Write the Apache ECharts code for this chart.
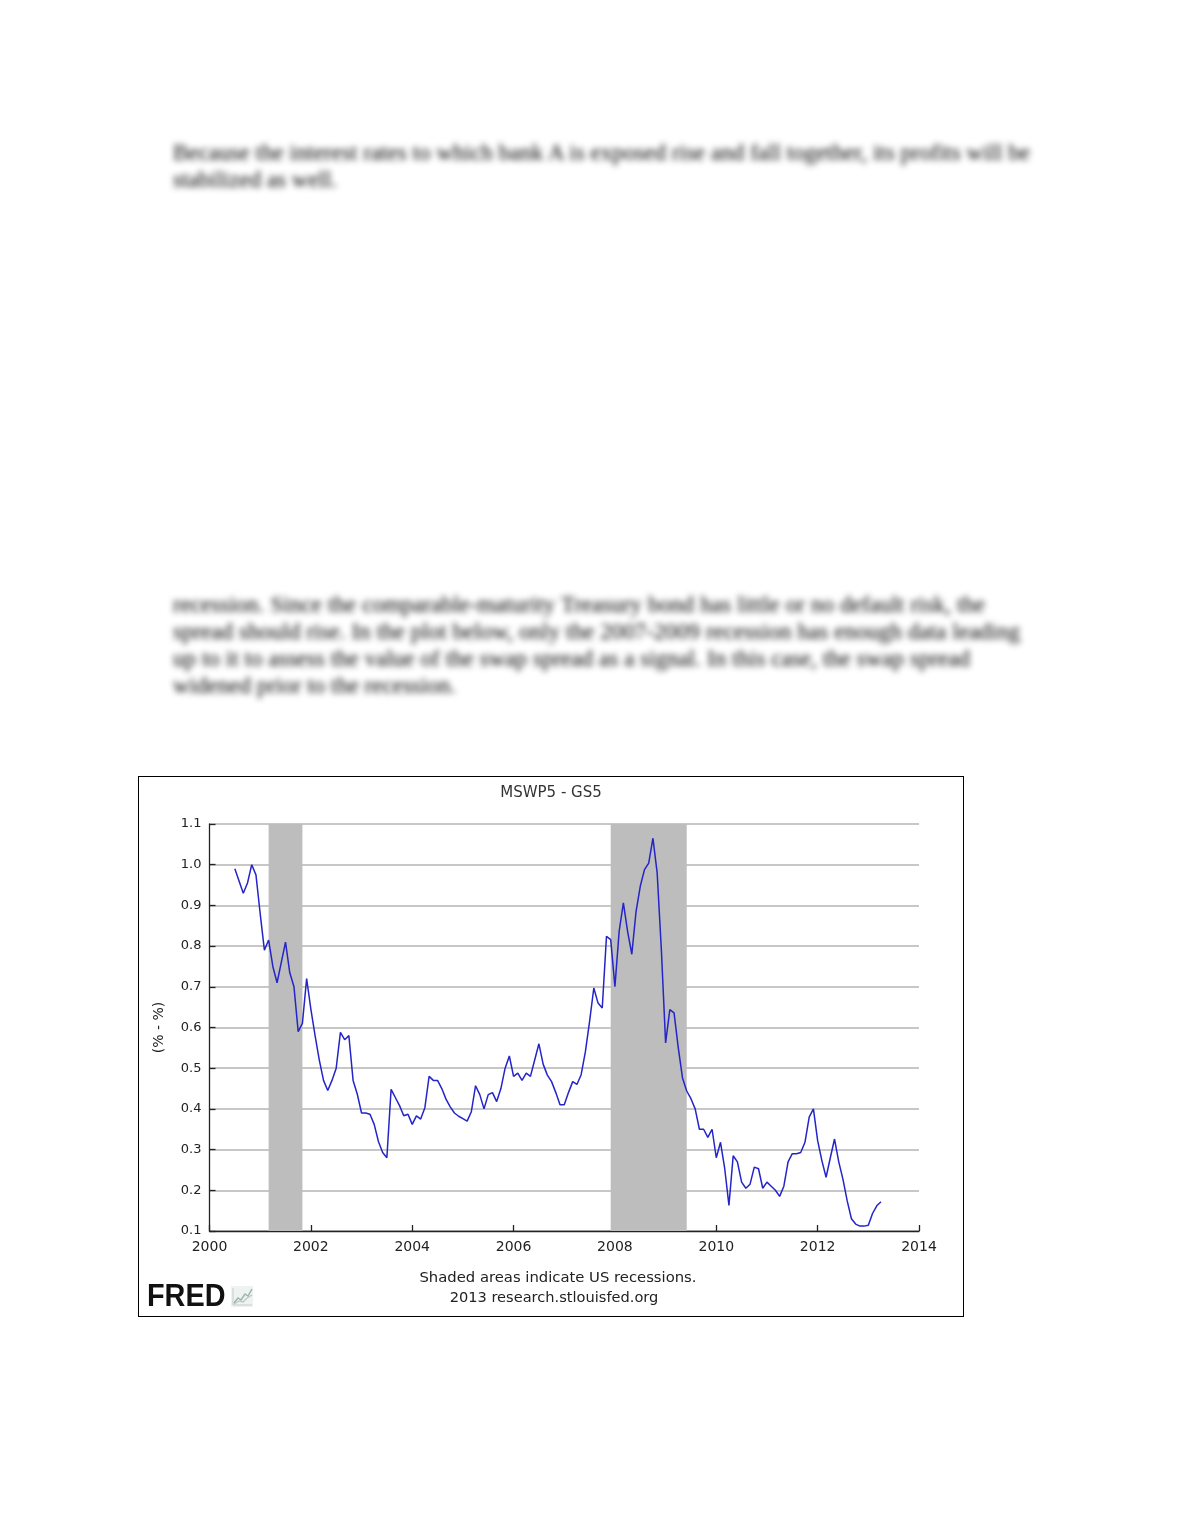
<!DOCTYPE html>
<html>
<head>
<meta charset="utf-8">
<script src="https://cdn.jsdelivr.net/npm/echarts@6/dist/echarts.min.js"></script>
<style>
  html, body { margin: 0; padding: 0; background: #ffffff; }
  body { width: 1180px; height: 1527px; position: relative; overflow: hidden; }
  .blur { position: absolute; left: 173px; font-family: "Liberation Serif", serif; font-size: 23px;
          line-height: 27px; color: #000; filter: blur(3px); white-space: nowrap; }
  .j { text-align: justify; text-align-last: justify; white-space: normal; }
  #chart { position: absolute; left: 138px; top: 776px; width: 826px; height: 541px;
           border: 1px solid #000; box-sizing: border-box; background: #fff; }
</style>
</head>
<body>
<div class="blur" style="top:139px;">
  <div class="j" style="width:857px;">Because the interest rates to which bank A is exposed rise and fall together, its profits will be</div>
  <div>stabilized as well.</div>
</div>
<div class="blur" style="top:591px;">
  <div class="j" style="width:812px;">recession. Since the comparable-maturity Treasury bond has little or no default risk, the</div>
  <div class="j" style="width:847px;">spread should rise. In the plot below, only the 2007-2009 recession has enough data leading</div>
  <div class="j" style="width:797px;">up to it to assess the value of the swap spread as a signal. In this case, the swap spread</div>
  <div>widened prior to the recession.</div>
</div>
<div id="chart"></div>
<script>
// MSWP5 - GS5 monthly spread (%), July 2000 .. April 2013
const startYear = 2000;
const startMonth = 7;
const spread2000 = [0.99, 0.96, 0.93, 0.955, 1.00, 0.975];
const spread2001 = [0.88, 0.79, 0.815, 0.75, 0.71, 0.76, 0.81, 0.735, 0.70, 0.59, 0.61, 0.72];
const spread2002 = [0.645, 0.58, 0.52, 0.47, 0.445, 0.47, 0.50, 0.588, 0.57, 0.58, 0.47, 0.436];
const spread2003 = [0.39, 0.39, 0.387, 0.362, 0.32, 0.293, 0.28, 0.448, 0.428, 0.408, 0.383, 0.387];
const spread2004 = [0.362, 0.383, 0.375, 0.403, 0.48, 0.47, 0.47, 0.45, 0.424, 0.405, 0.39, 0.382];
const spread2005 = [0.376, 0.37, 0.393, 0.457, 0.435, 0.40, 0.435, 0.44, 0.418, 0.45, 0.50, 0.53];
const spread2006 = [0.48, 0.488, 0.47, 0.488, 0.48, 0.52, 0.56, 0.51, 0.483, 0.467, 0.44, 0.41];
const spread2007 = [0.41, 0.44, 0.467, 0.46, 0.484, 0.54, 0.615, 0.697, 0.66, 0.648, 0.824, 0.816];
const spread2008 = [0.70, 0.836, 0.906, 0.836, 0.78, 0.885, 0.947, 0.988, 1.004, 1.065, 0.98, 0.79];
const spread2009 = [0.562, 0.644, 0.636, 0.55, 0.476, 0.444, 0.425, 0.40, 0.35, 0.35, 0.33, 0.35];
const spread2010 = [0.28, 0.318, 0.253, 0.163, 0.285, 0.27, 0.22, 0.205, 0.215, 0.257, 0.253, 0.205];
const spread2011 = [0.22, 0.21, 0.20, 0.185, 0.21, 0.27, 0.29, 0.29, 0.293, 0.318, 0.38, 0.40];
const spread2012 = [0.322, 0.273, 0.232, 0.28, 0.326, 0.27, 0.227, 0.174, 0.13, 0.117, 0.112, 0.112];
const spread2013 = [0.114, 0.143, 0.162, 0.172];

// US recessions (start month, end month)
const recessions = [["2001-03", "2001-11"], ["2007-12", "2009-06"]];

const xTicks = [2000, 2002, 2004, 2006, 2008, 2010, 2012, 2014];
const yTicks = [0.1, 0.2, 0.3, 0.4, 0.5, 0.6, 0.7, 0.8, 0.9, 1.0, 1.1];

const allValues = [].concat(spread2000, spread2001, spread2002, spread2003, spread2004,
  spread2005, spread2006, spread2007, spread2008, spread2009, spread2010, spread2011,
  spread2012, spread2013);

function monthToYear(s) {
  const p = s.split("-");
  return Number(p[0]) + (Number(p[1]) - 1) / 12;
}
const seriesData = allValues.map((v, i) => {
  const m = startMonth - 1 + i;
  return [startYear + m / 12, v];
});

const chart = echarts.init(document.getElementById('chart'), null, { renderer: 'canvas' });
const font = 'DejaVu Sans';
chart.setOption({
  animation: false,
  backgroundColor: '#ffffff',
  title: {
    text: 'MSWP5 - GS5', left: 'center', top: 4,
    textStyle: { fontFamily: font, fontSize: 15, fontWeight: 'normal', color: '#333' }
  },
  grid: { left: 70.5, right: 44, top: 47, bottom: 85, containLabel: false },
  xAxis: {
    type: 'value', min: xTicks[0], max: xTicks[xTicks.length - 1], interval: 2,
    axisLine: { show: true, lineStyle: { color: '#222', width: 1.3 } },
    axisTick: { show: true, inside: true, length: 6, lineStyle: { color: '#222', width: 1.3 } },
    axisLabel: { formatter: v => String(v), margin: 9, color: '#222', fontFamily: font, fontSize: 14 },
    splitLine: { show: false }
  },
  yAxis: {
    type: 'value', min: yTicks[0], max: yTicks[yTicks.length - 1], interval: 0.1,
    name: '(% - %)', nameLocation: 'middle', nameGap: 43, nameRotate: 90,
    nameTextStyle: { fontFamily: font, fontSize: 14, color: '#222' },
    axisLine: { show: true, lineStyle: { color: '#222', width: 1.3 } },
    axisTick: { show: true, inside: true, length: 6, lineStyle: { color: '#222', width: 1.3 } },
    axisLabel: { formatter: v => v.toFixed(1), margin: 8, color: '#222', fontFamily: font, fontSize: 13 },
    splitLine: { show: true, lineStyle: { color: '#b5b5b5', width: 1.5 } }
  },
  series: [{
    type: 'line',
    data: seriesData,
    showSymbol: false,
    symbol: 'none',
    lineStyle: { color: '#2424c8', width: 1.5 },
    z: 3,
    markArea: {
      silent: true,
      itemStyle: { color: '#bdbdbd', opacity: 1 },
      data: recessions.map(r => [{ xAxis: monthToYear(r[0]) }, { xAxis: monthToYear(r[1]) }])
    }
  }],
  graphic: [
    {
      type: 'text', x: 419, y: 501,
      style: { text: 'Shaded areas indicate US recessions.', font: '14.8px "DejaVu Sans"', fill: '#222',
               textAlign: 'center', align: 'center', textVerticalAlign: 'middle', verticalAlign: 'middle' }
    },
    {
      type: 'text', x: 415, y: 521,
      style: { text: '2013 research.stlouisfed.org', font: '14.6px "DejaVu Sans"', fill: '#222',
               textAlign: 'center', align: 'center', textVerticalAlign: 'middle', verticalAlign: 'middle' }
    },
    {
      type: 'text', x: 8, y: 520, scaleX: 0.93,
      style: { text: 'FRED', font: 'bold 31px "Liberation Sans"', fill: '#111',
               textAlign: 'left', align: 'left', textVerticalAlign: 'middle', verticalAlign: 'middle' }
    },
    {
      type: 'group', x: 92, y: 509,
      children: [
        { type: 'rect', shape: { x: 0, y: 0, width: 22, height: 21 }, style: { fill: '#eef2f0' } },
        { type: 'polyline', shape: { points: [[2, 2], [2, 19], [21, 19]] }, style: { stroke: '#c8cfcc', lineWidth: 1, fill: null } },
        { type: 'polyline', shape: { points: [[3, 17], [7, 12], [10, 14], [14, 8], [17, 10], [21, 3]] }, style: { stroke: '#9fb3ad', lineWidth: 1.5, fill: null } },
        { type: 'polyline', shape: { points: [[3, 18], [8, 15], [12, 16], [16, 12], [21, 9]] }, style: { stroke: '#b9c7c2', lineWidth: 1.2, fill: null } }
      ]
    }
  ]
});
</script>
</body>
</html>
